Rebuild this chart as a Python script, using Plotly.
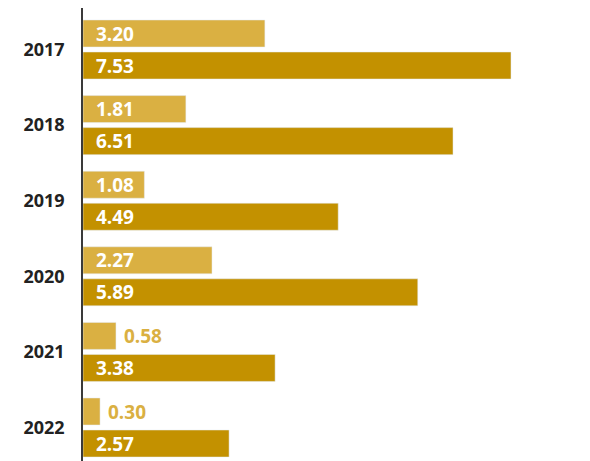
import plotly.graph_objects as go

years = ["2017", "2018", "2019", "2020", "2021", "2022"]
series_a = [3.20, 1.81, 1.08, 2.27, 0.58, 0.30]
series_b = [7.53, 6.51, 4.49, 5.89, 3.38, 2.57]

LIGHT = "#DAB042"
DARK = "#C39100"
FONT = "Open Sans"

def text_props(vals, bar_color):
    pos, colors = [], []
    for v in vals:
        if v < 1.0:
            pos.append("outside")
            colors.append(bar_color)
        else:
            pos.append("inside")
            colors.append("white")
    return pos, colors

pa, ca = text_props(series_a, LIGHT)
pb, cb = text_props(series_b, DARK)

def labels(vals):
    return [("\u00a0\u00a0" if v >= 1.0 else "\u00a0") + f"{v:.2f}" for v in vals]

fig = go.Figure()
fig.add_trace(go.Bar(
    y=years, x=series_a, orientation="h", marker_color=LIGHT,
    text=labels(series_a), textposition=pa, insidetextanchor="start",
    textfont=dict(family=FONT, size=19, color=ca, weight="bold"),
    cliponaxis=False, constraintext="none", hoverinfo="skip",
))
fig.add_trace(go.Bar(
    y=years, x=series_b, orientation="h", marker_color=DARK,
    text=labels(series_b), textposition=pb, insidetextanchor="start",
    textfont=dict(family=FONT, size=19, color=cb, weight="bold"),
    cliponaxis=False, constraintext="none", hoverinfo="skip",
))

# page body adds an 8px margin, so the figure is sized to the remaining view
fig.update_layout(
    width=582, height=453,
    margin=dict(l=75, r=0, t=0, b=0, autoexpand=False),
    barmode="group", bargap=0.153, bargroupgap=0.156,
    showlegend=False,
    plot_bgcolor="white", paper_bgcolor="white",
    font=dict(family=FONT),
)
fig.update_xaxes(visible=False, range=[0, 8.92], automargin=False)
fig.update_yaxes(
    range=[5.443, -0.549], showgrid=False, zeroline=False, automargin=False,
    showline=True, linecolor="#3a3a3a", linewidth=1.5,
    ticks="", ticklabelstandoff=13,
    tickfont=dict(family=FONT, size=18, color="#222222", weight="bold"),
)

fig.write_html("out.html")
